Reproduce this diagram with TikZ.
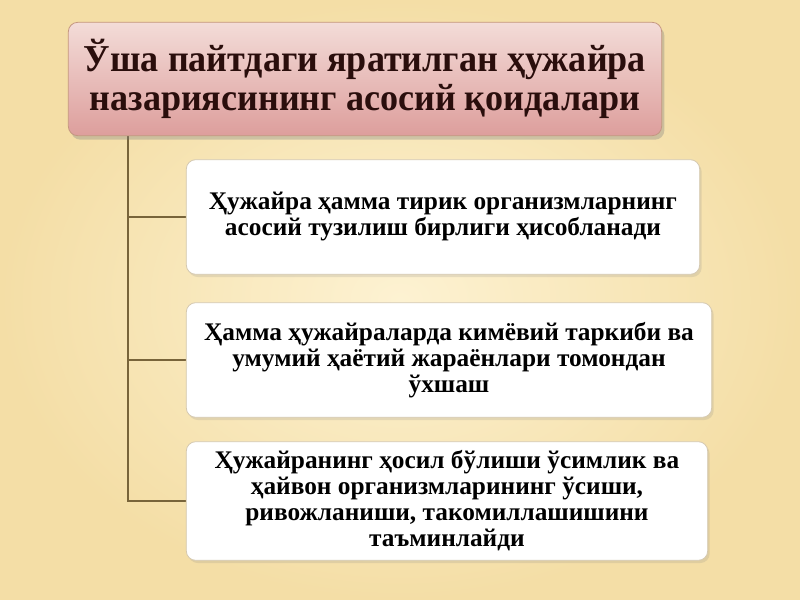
\documentclass[tikz,border=0pt]{standalone}
\usepackage{fontspec}
\setmainfont{Liberation Serif}
\newfontfamily\headfont[FakeStretch=0.95]{Liberation Serif}
\usepackage{tikz}
\usetikzlibrary{shadows,backgrounds}
\pgfdeclarelayer{bglayer}
\pgfdeclarelayer{edgelayer}
\pgfdeclarelayer{nodelayer}
\pgfsetlayers{bglayer,edgelayer,nodelayer,main}
\definecolor{paperin}{RGB}{253,242,210}
\definecolor{paperout}{RGB}{244,222,166}
\definecolor{headtop}{RGB}{243,220,216}
\definecolor{headbot}{RGB}{221,158,156}
\definecolor{headline}{RGB}{196,150,128}
\definecolor{headink}{RGB}{42,14,12}
\definecolor{ruleline}{RGB}{212,200,176}
\definecolor{stem}{RGB}{120,100,58}
\tikzstyle{none}=[inner sep=0pt]
\tikzstyle{heading}=[rectangle,rounded corners=7pt,draw=headline,line width=0.6,top color=headtop,bottom color=headbot,drop shadow={shadow xshift=2pt,shadow yshift=-3pt,opacity=0.35},minimum width=445pt,minimum height=85pt,align=center,text=headink,font=\headfont\bfseries\fontsize{28.5}{29}\selectfont]
\tikzstyle{rule}=[rectangle,rounded corners=7pt,draw=ruleline,line width=0.6,fill=white,drop shadow={shadow xshift=1.5pt,shadow yshift=-2pt,opacity=0.18},minimum height=86pt,align=center,font=\bfseries\fontsize{19}{19.5}\selectfont]
\tikzstyle{branch}=[-,draw=stem,line width=1.1]

\begin{document}
\begin{tikzpicture}[x=0.75pt,y=-0.75pt]
	\useasboundingbox (0,0) rectangle (800,600);
	\begin{pgfonlayer}{bglayer}
		\shade [inner color=paperin,outer color=paperout] (0,0) rectangle (800,600);
	\end{pgfonlayer}
	\begin{pgfonlayer}{nodelayer}
		\node [style=heading] (H) at (365,79) {Ўша пайтдаги яратилган ҳужайра\\назариясининг асосий қоидалари};
		\node [style=rule, minimum width=385pt] (P1) at (443,217) {Ҳужайра ҳамма тирик организмларнинг\\асосий тузилиш бирлиги ҳисобланади};
		\node [style=rule, minimum width=394pt] (P2) at (449,360) {Ҳамма ҳужайраларда кимёвий таркиби ва\\умумий ҳаётий жараёнлари томондан\\ўхшаш};
		\node [style=rule, minimum width=391pt, minimum height=89pt] (P3) at (447,501) {Ҳужайранинг ҳосил бўлиши ўсимлик ва\\ҳайвон организмларининг ўсиши,\\ривожланиши, такомиллашишини\\таъминлайди};
		\node [style=none] (S) at (128,136) {};
	\end{pgfonlayer}
	\begin{pgfonlayer}{edgelayer}
		\draw [style=branch] (S.center) |- (P3.west);
		\draw [style=branch] (S.center) |- (P1.west);
		\draw [style=branch] (S.center) |- (P2.west);
	\end{pgfonlayer}
\end{tikzpicture}
\end{document}
